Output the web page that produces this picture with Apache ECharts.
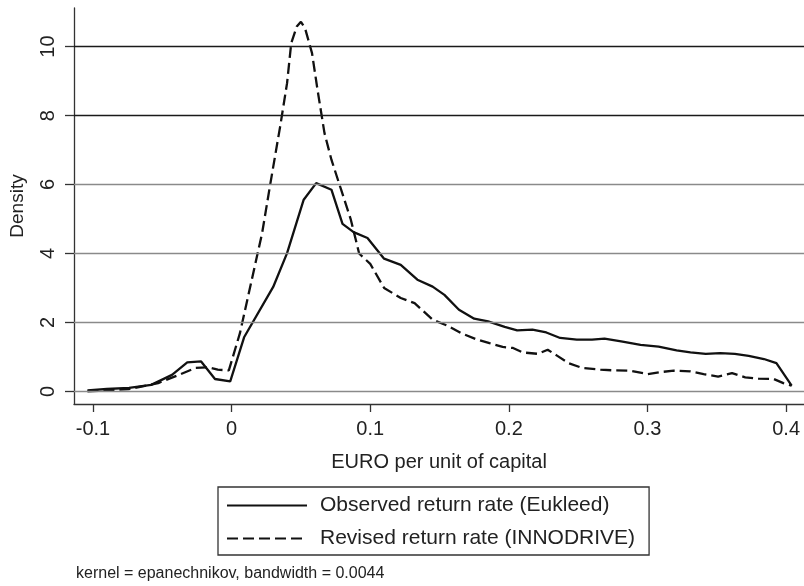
<!DOCTYPE html>
<html>
<head>
<meta charset="utf-8">
<script src="https://cdn.jsdelivr.net/npm/echarts@6/dist/echarts.min.js"></script>
<style>
html,body{margin:0;padding:0;background:#fff;}
#chart{width:804px;height:586px;}
</style>
</head>
<body>
<div id="chart"></div>
<script>
// ---- data ----
const obsX = [-0.104,-0.090,-0.074,-0.058,-0.043,-0.032,-0.022,-0.012,-0.001,0.009,0.030,0.040,0.052,0.061,0.072,0.080,0.088,0.098,0.110,0.122,0.134,0.145,0.1535,0.164,0.175,0.185,0.197,0.206,0.217,0.227,0.237,0.249,0.260,0.269,0.281,0.295,0.308,0.321,0.331,0.342,0.3525,0.363,0.373,0.384,0.393,0.404];
const obsY = [0.03,0.07,0.10,0.19,0.48,0.84,0.87,0.36,0.29,1.57,3.03,4.01,5.56,6.04,5.85,4.86,4.62,4.45,3.85,3.67,3.24,3.04,2.80,2.37,2.11,2.03,1.87,1.77,1.79,1.71,1.55,1.50,1.50,1.53,1.45,1.35,1.30,1.19,1.13,1.09,1.11,1.09,1.03,0.94,0.82,0.17];
const revX = [-0.104,-0.074,-0.053,-0.038,-0.026,-0.017,-0.010,-0.002,0.006,0.014,0.022,0.028,0.035,0.040,0.043,0.047,0.050,0.053,0.058,0.062,0.067,0.072,0.079,0.086,0.092,0.100,0.110,0.122,0.132,0.145,0.156,0.1655,0.176,0.186,0.1955,0.203,0.210,0.221,0.228,0.235,0.243,0.253,0.266,0.276,0.288,0.300,0.309,0.319,0.331,0.3405,0.351,0.361,0.3705,0.380,0.391,0.398,0.404];
const revY = [0.0,0.07,0.24,0.48,0.68,0.70,0.63,0.61,1.69,3.14,4.59,6.04,7.68,8.94,10.1,10.58,10.72,10.53,9.81,8.74,7.49,6.72,5.85,4.98,4.0,3.7,3.0,2.71,2.56,2.08,1.90,1.69,1.52,1.40,1.29,1.26,1.13,1.09,1.21,1.03,0.82,0.68,0.63,0.61,0.60,0.50,0.56,0.60,0.58,0.50,0.43,0.53,0.41,0.37,0.36,0.24,0.17];
const xTicks = [-0.1, 0, 0.1, 0.2, 0.3, 0.4];
const xTickLabels = ['-0.1', '0', '0.1', '0.2', '0.3', '0.4'];
const yTicks = [0, 2, 4, 6, 8, 10];
const yTickLabels = ['0', '2', '4', '6', '8', '10'];
const seriesNames = ['Observed return rate (Eukleed)', 'Revised return rate (INNODRIVE)'];
const xTitle = 'EURO per unit of capital';
const yTitle = 'Density';
const note = 'kernel = epanechnikov, bandwidth = 0.0044';

const FONT = 'Liberation Sans, Arial, Helvetica, sans-serif';
const zip = (a, b) => a.map((v, i) => [v, b[i]]);

const gridColors = {0:'#8a8a8a',2:'#8a8a8a',4:'#8a8a8a',6:'#8a8a8a',8:'#1a1a1a',10:'#1a1a1a'};

const chart = echarts.init(document.getElementById('chart'), null, {renderer:'canvas'});
chart.setOption({
  animation: false,
  backgroundColor: '#fff',
  grid: {left: 72, right: 0, top: 8, bottom: 182, containLabel: false},
  xAxis: {
    type: 'value', min: -0.1137, max: 0.4129,
    splitLine: {show: false},
    axisLine: {show: true, onZero: false, lineStyle: {color: '#333', width: 1.3}},
    axisTick: {show: true, length: 8, customValues: xTicks, lineStyle: {color: '#333', width: 1.3}},
    axisLabel: {customValues: xTicks, margin: 15, fontFamily: FONT, fontSize: 20, color: '#222',
      formatter: v => { const i = xTicks.findIndex(t => Math.abs(t - v) < 1e-9); return i >= 0 ? xTickLabels[i] : ''; }},
    name: xTitle, nameLocation: 'middle', nameGap: 48,
    nameTextStyle: {fontFamily: FONT, fontSize: 20, color: '#222'}
  },
  yAxis: {
    type: 'value', min: -0.365, max: 11.12,
    splitLine: {show: false},
    axisLine: {show: true, onZero: false, lineStyle: {color: '#333', width: 1.3}},
    axisTick: {show: true, length: 9, customValues: yTicks, lineStyle: {color: '#333', width: 1.3}},
    axisLabel: {customValues: yTicks, rotate: 90, margin: 16, fontFamily: FONT, fontSize: 20, color: '#222',
      formatter: v => { const i = yTicks.findIndex(t => Math.abs(t - v) < 1e-9); return i >= 0 ? yTickLabels[i] : ''; }},
    name: yTitle, nameLocation: 'middle', nameGap: 47, nameRotate: 90,
    nameTextStyle: {fontFamily: FONT, fontSize: 19, color: '#222'}
  },
  legend: {
    orient: 'vertical', left: 218, top: 487,
    data: seriesNames,
    borderColor: '#333', borderWidth: 1.3, borderRadius: 0,
    padding: [8, 14, 6, 8],
    itemWidth: 80, itemHeight: 20, itemGap: 12,
    itemStyle: {opacity: 0},
    textStyle: {fontFamily: FONT, fontSize: 21, color: '#222', padding: [0, 0, 0, 8]}
  },
  graphic: [{
    type: 'text', left: 76, top: 566,
    style: {text: note, font: '16px ' + FONT, fill: '#222'}
  }],
  series: [
    {
      name: seriesNames[0], type: 'line', data: zip(obsX, obsY),
      symbol: 'none', smooth: false,
      lineStyle: {color: '#111', width: 2.3, type: 'solid'},
      itemStyle: {color: '#111'},
      z: 3,
      markLine: {
        silent: true, symbol: 'none', label: {show: false}, animation: false,
        data: yTicks.map(t => ({yAxis: t, lineStyle: {color: gridColors[t], width: 1.3, type: 'solid'}}))
      }
    },
    {
      name: seriesNames[1], type: 'line', data: zip(revX, revY),
      symbol: 'none', smooth: false,
      lineStyle: {color: '#111', width: 2.3, type: [11, 5]},
      itemStyle: {color: '#111'},
      z: 3
    }
  ]
});
</script>
</body>
</html>
